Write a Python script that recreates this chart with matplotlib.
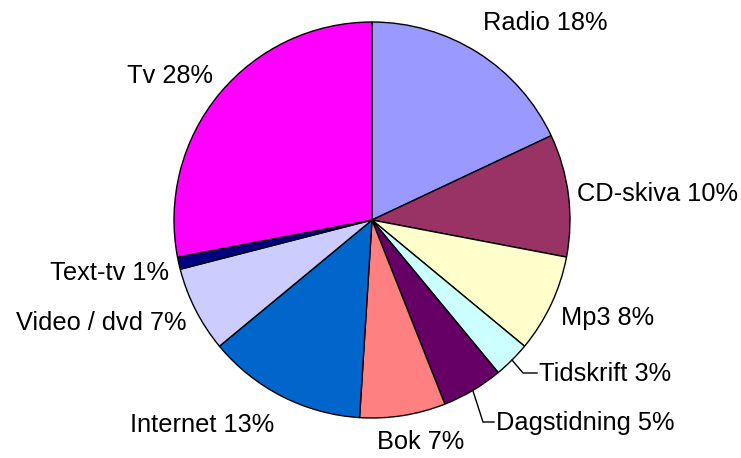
import numpy as np
import matplotlib.pyplot as plt

labels = ['Radio', 'CD-skiva', 'Mp3', 'Tidskrift', 'Dagstidning', 'Bok',
          'Internet', 'Video / dvd', 'Text-tv', 'Tv']
shares = [18, 10, 8, 3, 5, 7, 13, 7, 1, 28]
colors = ['#9999FF', '#993366', '#FFFFCC', '#CCFFFF', '#660066', '#FF8080',
          '#0066CC', '#CCCCFF', '#000080', '#FF00FF']

W, H = 741, 458
fig = plt.figure(figsize=(W / 100, H / 100), dpi=100)
ax = fig.add_axes([0, 0, 1, 1])

cx, cy, r = 372, H - 220, 198
wedges, _ = ax.pie(shares, colors=colors, startangle=90, counterclock=False,
                   center=(cx, cy), radius=r, frame=True,
                   wedgeprops=dict(edgecolor='black', linewidth=1))
ax.set_xlim(0, W)
ax.set_ylim(0, H)
ax.set_aspect('equal')
ax.axis('off')

# label anchor positions in pixels (x, y from top, alignment)
pos = {
    'Radio': (483, 23, 'left'),
    'CD-skiva': (577, 194, 'left'),
    'Mp3': (561, 318, 'left'),
    'Tidskrift': (539, 374, 'left'),
    'Dagstidning': (496, 423, 'left'),
    'Bok': (377, 442, 'left'),
    'Internet': (130, 425, 'left'),
    'Video / dvd': (186, 323, 'right'),
    'Text-tv': (169, 273, 'right'),
    'Tv': (127, 76, 'left'),
}
for lab, v in zip(labels, shares):
    x, y, ha = pos[lab]
    ax.text(x, H - y, f'{lab} {v}%', ha=ha, va='center',
            fontsize=18.3, family='Liberation Sans')

# leader lines for the two small slices
for lab, (tx, ty), dx in [('Tidskrift', (537, 373), 14), ('Dagstidning', (494, 422), 11)]:
    w = wedges[labels.index(lab)]
    ang = np.deg2rad((w.theta1 + w.theta2) / 2)
    ex, ey = cx + r * np.cos(ang), cy + r * np.sin(ang)
    ax.plot([ex, tx - dx, tx], [ey, H - ty, H - ty], color='black', lw=1)

fig.savefig('out.png', dpi=100)
